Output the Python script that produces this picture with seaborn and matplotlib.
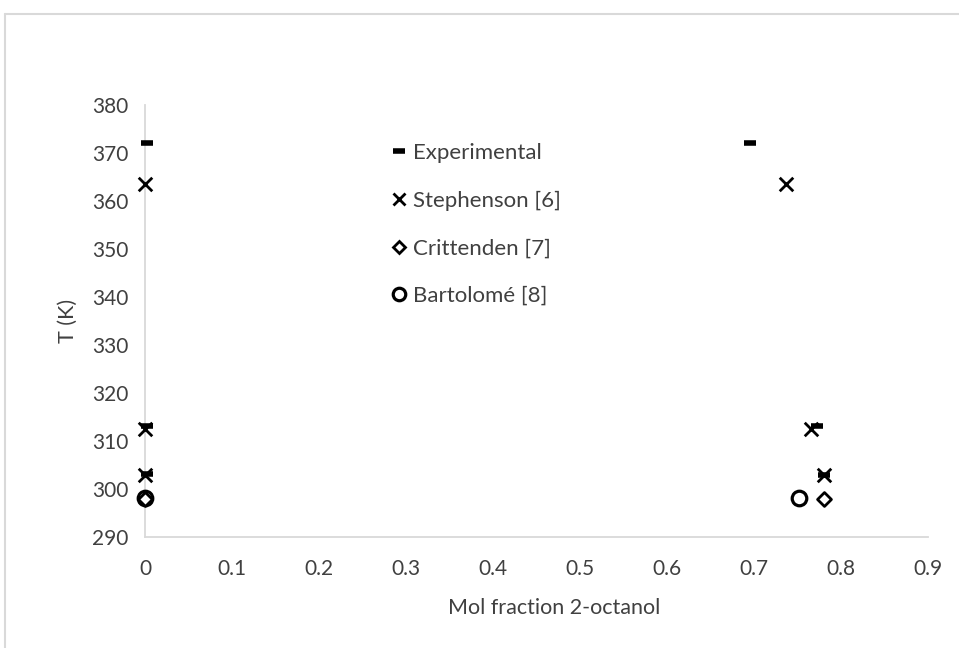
import matplotlib
matplotlib.use("Agg")
import matplotlib.pyplot as plt
from matplotlib.lines import Line2D
import seaborn as sns
import pandas as pd

# Liquid-liquid equilibrium of water / 2-octanol
exp_x = [0.002, 0.002, 0.002, 0.695, 0.772, 0.780]
exp_T = [372.0, 313.2, 303.2, 372.0, 313.2, 303.0]

steph_x = [0.0, 0.0, 0.0, 0.737, 0.765, 0.780]
steph_T = [363.6, 312.6, 302.9, 363.6, 312.6, 302.9]

critt_x = [0.0, 0.781]
critt_T = [298.0, 298.0]

bart_x = [0.0, 0.752]
bart_T = [298.2, 298.2]

x_ticks = [0, 0.1, 0.2, 0.3, 0.4, 0.5, 0.6, 0.7, 0.8, 0.9]
y_ticks = [290, 300, 310, 320, 330, 340, 350, 360, 370, 380]

sns.set_theme(style="white")
plt.rcParams["font.family"] = ["Lato", "DejaVu Sans"]

fig = plt.figure(figsize=(9.59, 6.48), dpi=100)
ax = fig.add_axes([0.1512, 0.1713, 0.8165, 0.6667])

frame_col = "#d9d9d9"
text_col = "#404040"

series = [
    ("Experimental", exp_x, exp_T),
    ("Stephenson [6]", steph_x, steph_T),
    ("Crittenden [7]", critt_x, critt_T),
    ("Bartolomé [8]", bart_x, bart_T),
]
style = {
    "Experimental": dict(marker="_", s=70, linewidth=4, color="black"),
    "Stephenson [6]": dict(marker="x", s=95, linewidth=2.0, color="black"),
    "Crittenden [7]": dict(marker="D", s=50, linewidth=2.0, facecolor="white", edgecolor="black"),
    "Bartolomé [8]": dict(marker="o", s=110, linewidth=2.3, facecolor="white", edgecolor="black"),
}
order_z = {"Bartolomé [8]": 3, "Crittenden [7]": 4, "Stephenson [6]": 5, "Experimental": 6}

for name, xs, ts in series:
    df = pd.DataFrame({"x": xs, "T": ts})
    sns.scatterplot(data=df, x="x", y="T", ax=ax, zorder=order_z[name],
                    clip_on=False, legend=False, **style[name])

ax.set_xlim(0, 0.9)
ax.set_ylim(290, 380)
ax.set_xticks(x_ticks)
ax.set_xticklabels(["0" if v == 0 else f"{v:.1f}" for v in x_ticks])
ax.set_yticks(y_ticks)
ax.set_yticklabels([str(v) for v in y_ticks])
ax.tick_params(axis="both", length=0, labelsize=15, labelcolor=text_col)
ax.tick_params(axis="x", pad=16)
ax.tick_params(axis="y", pad=12)

for side in ["top", "right"]:
    ax.spines[side].set_visible(False)
for side in ["left", "bottom"]:
    ax.spines[side].set_color(frame_col)
    ax.spines[side].set_linewidth(1.3)

ax.set_xlabel("Mol fraction 2-octanol", fontsize=15.5, color=text_col, va="center")
ax.xaxis.set_label_coords(0.522, -0.164)
ax.set_ylabel("T (K)", fontsize=15.5, color=text_col, va="center")
ax.yaxis.set_label_coords(-0.098, 0.5)

handles = [
    Line2D([], [], linestyle="none", marker="_", markersize=8, markeredgewidth=4, color="black"),
    Line2D([], [], linestyle="none", marker="x", markersize=9, markeredgewidth=2.0, color="black"),
    Line2D([], [], linestyle="none", marker="D", markersize=6.5, markeredgewidth=2.0,
           markerfacecolor="white", markeredgecolor="black"),
    Line2D([], [], linestyle="none", marker="o", markersize=9, markeredgewidth=2.3,
           markerfacecolor="white", markeredgecolor="black"),
]
leg = ax.legend(handles, [s[0] for s in series], loc="upper left",
                bbox_to_anchor=(0.305, 0.932), frameon=False, fontsize=16,
                labelspacing=1.24, handlelength=0.6, handletextpad=0.3,
                borderaxespad=0)
for t in leg.get_texts():
    t.set_color(text_col)

# Outer chart frame
fig.add_artist(Line2D([5 / 959, 1.0], [1 - 14 / 648, 1 - 14 / 648],
                      transform=fig.transFigure, color=frame_col, linewidth=1.5))
fig.add_artist(Line2D([5 / 959, 5 / 959], [0.0, 1 - 14 / 648],
                      transform=fig.transFigure, color=frame_col, linewidth=1.5))

fig.savefig("out.png", dpi=100)
